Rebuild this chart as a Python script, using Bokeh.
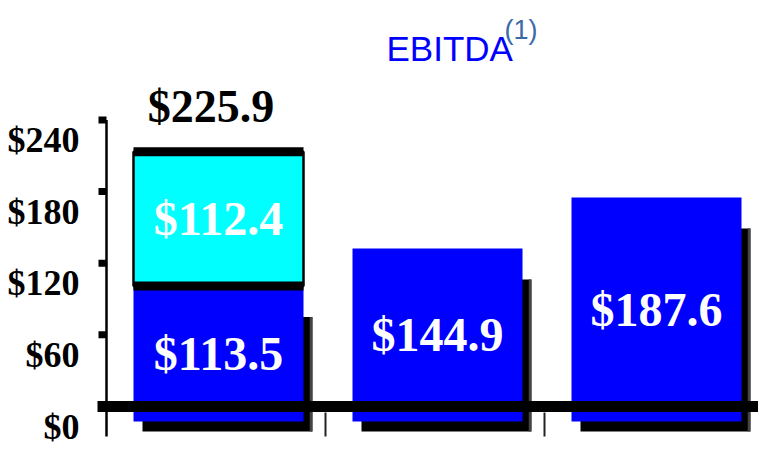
from bokeh.plotting import figure
from bokeh.models import Range1d
from bokeh.embed import file_html
from bokeh.resources import INLINE
from bokeh.core.properties import value

# ---------------- data ----------------
categories = ["A", "B", "C"]
base_values = [113.5, 144.9, 187.6]      # blue segment
top_values = [112.4, 0.0, 0.0]           # cyan segment (first bar only)
totals = [225.9, 144.9, 187.6]
tick_values = [0, 60, 120, 180, 240]
tick_labels = ["$0", "$60", "$120", "$180", "$240"]
base_labels = ["$113.5", "$144.9", "$187.6"]
top_labels = ["$112.4"]
total_label = ["$225.9"]
title_text = "EBITDA"
title_note = "(1)"

# ---------------- layout / style ----------------
W, H = 758, 464
BAND_PX = 219.0          # pixel width of one category band
AXIS_PX = 106.0          # axis position from figure left
PX_PER_UNIT = 1.194      # vertical pixels per $
ZERO_PX = 406.0          # zero line from figure top

def ux(px):
    return px / BAND_PX

def uy(px):
    return px / PX_PER_UNIT

x_start = -0.5 - ux(AXIS_PX)
x_end = x_start + ux(W)
y_start = -uy(H - ZERO_PX)
y_end = uy(ZERO_PX)

BLUE = "#0000FF"
CYAN = "#00FFFF"
SERIF = value("Liberation Serif")
SANS = value("Liberation Sans")

FACE_W = ux(170)
FACE_SHIFT_X = ux(2.5)
FACE_DROP = uy(15)       # front face sits below the floor line
SH_DX = ux(9)
SH_DY = uy(10)
SH_TOP = uy(31)

p = figure(width=W, height=H, output_backend="svg", toolbar_location=None,
           x_range=Range1d(x_start, x_end), y_range=Range1d(y_start, y_end),
           min_border=0, min_border_left=0, min_border_right=0,
           min_border_top=0, min_border_bottom=0)
p.xaxis.visible = False
p.yaxis.visible = False
p.xgrid.visible = False
p.ygrid.visible = False
p.outline_line_color = None
p.background_fill_color = "white"
p.border_fill_color = "white"

n = len(categories)
xs = list(range(n))
face_left = [x + FACE_SHIFT_X - FACE_W / 2 for x in xs]
face_right = [x + FACE_SHIFT_X + FACE_W / 2 for x in xs]
face_bottom = [-FACE_DROP] * n
base_top = [v - FACE_DROP for v in base_values]

# shadows
p.quad(left=[l + SH_DX for l in face_left], right=[r + SH_DX for r in face_right],
       bottom=[b - SH_DY for b in face_bottom], top=[t - SH_TOP for t in base_top],
       fill_color="black", line_color=None)
p.segment(x0=[r + SH_DX - ux(1.5) for r in face_right], x1=[r + SH_DX - ux(1.5) for r in face_right],
          y0=[b - SH_DY for b in face_bottom], y1=[t - SH_TOP for t in base_top],
          line_color="#444444", line_width=2.5)

# blue faces
p.quad(left=face_left, right=face_right, bottom=face_bottom, top=base_top,
       fill_color=BLUE, line_color=None)

# cyan stacked segment
stack_idx = [i for i in range(n) if top_values[i] > 0]
c_left = [face_left[i] for i in stack_idx]
c_right = [face_right[i] for i in stack_idx]
c_bottom = [base_top[i] for i in stack_idx]
c_top = [base_top[i] + top_values[i] for i in stack_idx]
p.quad(left=c_left, right=c_right, bottom=c_bottom, top=c_top,
       fill_color=CYAN, line_color="black", line_width=2.5)
p.segment(x0=c_left + c_left, x1=c_right + c_right, y0=c_top + c_bottom,
          y1=c_top + c_bottom, line_color="black", line_width=9)

# zero / floor line and axis
p.segment(x0=[-0.5 - ux(9)], x1=[x_end], y0=[0], y1=[0],
          line_color="black", line_width=11)
p.segment(x0=[-0.5], x1=[-0.5], y0=[-uy(30)], y1=[tick_values[-1]],
          line_color="black", line_width=2.5)
p.segment(x0=[x + 0.5 for x in xs[:-1]], x1=[x + 0.5 for x in xs[:-1]],
          y0=[-uy(6)] * (n - 1), y1=[-uy(30)] * (n - 1),
          line_color="#222222", line_width=2)
p.segment(x0=[-0.5 - ux(8)] * len(tick_values), x1=[-0.5] * len(tick_values),
          y0=tick_values, y1=tick_values, line_color="black", line_width=7)

# tick labels
p.text(x=[-0.5 - ux(27)] * len(tick_values), y=tick_values, text=tick_labels,
       y_offset=20, text_align="right", text_baseline="middle",
       text_font=SERIF, text_font_style="bold", text_font_size="36px",
       text_color="black")

# value labels
p.text(x=[x + FACE_SHIFT_X for x in xs], y=[(b + t) / 2 for b, t in zip(face_bottom, base_top)],
       text=base_labels, text_align="center", text_baseline="middle",
       text_font=SERIF, text_font_style="bold", text_font_size="48px",
       text_color="white")
p.text(x=[xs[i] + FACE_SHIFT_X for i in stack_idx],
       y=[(b + t) / 2 for b, t in zip(c_bottom, c_top)],
       text=top_labels, text_align="center", text_baseline="middle",
       text_font=SERIF, text_font_style="bold", text_font_size="48px",
       text_color="white")
p.text(x=[xs[i] - ux(5) for i in stack_idx], y=[totals[i] - FACE_DROP for i in stack_idx],
       text=total_label, y_offset=-20, text_align="center", text_baseline="bottom",
       text_font=SERIF, text_font_style="bold", text_font_size="46px",
       text_color="black")

# title
p.text(x=[x_start + ux(386)], y=[uy(ZERO_PX - 48)], text=[title_text], text_align="left",
       text_baseline="alphabetic", text_font=SANS, text_font_size="35px",
       text_color=BLUE)
p.text(x=[x_start + ux(504)], y=[uy(ZERO_PX - 29)], text=[title_note],
       text_align="left", text_baseline="alphabetic", text_font=SANS,
       text_font_size="27px", text_color="#3A6AA8")

open("out.html", "w").write(file_html(p, INLINE))
